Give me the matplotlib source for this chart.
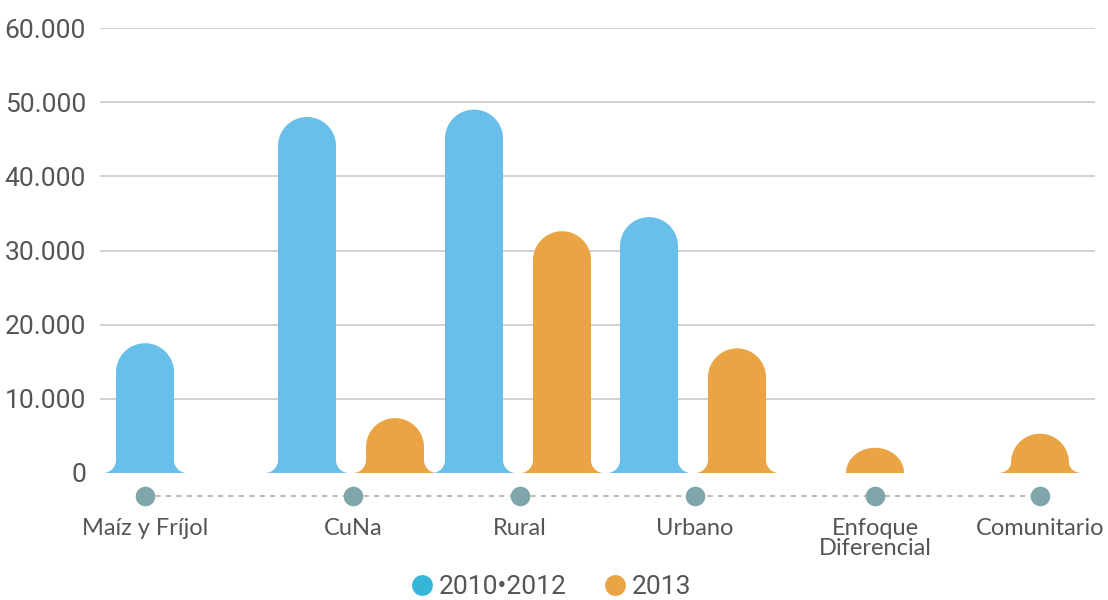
import numpy as np
import matplotlib
matplotlib.use("Agg")
import matplotlib.pyplot as plt
from matplotlib.path import Path
from matplotlib.patches import PathPatch
from matplotlib.lines import Line2D
import matplotlib.transforms as mtransforms

# ---------------- data ----------------
categories = ["Maíz y Fríjol", "CuNa", "Rural", "Urbano", "Enfoque\nDiferencial", "Comunitario"]
series_names = ["2010•2012", "2013"]
values_2010_2012 = [17500, 48000, 49000, 34500, np.nan, np.nan]
values_2013 = [np.nan, 7400, 32600, 16800, 3400, 5300]
y_ticks = [0, 10000, 20000, 30000, 40000, 50000, 60000]

# ---------------- layout / style ----------------
W, H = 1108, 600
cat_x = [145, 353, 520, 695, 875, 1040]      # category centres (x axis units)
pair_offset = [-46, 42]                        # offsets when both series present
bar_half = 29                                  # half bar width (px)
flare = 13                                     # base fillet (px)
bar_colors = ["#67BFEA", "#EBA444"]
legend_colors = ["#35B6D8", "#EBA444"]
dot_color = "#7FA6AB"
text_color = "#555555"
grid_color = "#C9C9C9"

fig = plt.figure(figsize=(W / 100, H / 100), dpi=100)
ax = fig.add_axes([100 / W, (H - 473) / H, 995 / W, 445 / H])
ax.set_xlim(100, 1095)
ax.set_ylim(0, 60000)
for s in ax.spines.values():
    s.set_visible(False)

ax.set_yticks(y_ticks)
ax.yaxis.set_major_formatter(plt.FuncFormatter(lambda v, p: f"{int(v):,}".replace(",", ".")))
ax.tick_params(axis="y", length=0, pad=10, labelsize=19, labelcolor=text_color)
for lab in ax.get_yticklabels():
    lab.set_family(["Roboto", "DejaVu Sans"])
ax.set_xticks([])
ax.hlines([t for t in y_ticks if t > 0], 100, 1095, color=grid_color, lw=1.2, zorder=0)

ppx_y = 60000 / ax.bbox.height   # data units per pixel (y)
ppx_x = 995 / ax.bbox.width      # data units per pixel (x)


def bar_path(cx, val):
    h = val / ppx_y
    w = bar_half
    r = w
    pts = []
    if h <= r:
        t = np.linspace(np.pi, 0, 60)
        pts += list(zip(cx + w * np.cos(t), h * np.sin(t)))
    else:
        fh = min(flare, h - r)
        t = np.linspace(-np.pi / 2, 0, 20)
        pts += list(zip(cx - w - flare + flare * np.cos(t), fh + fh * np.sin(t)))
        t = np.linspace(np.pi, 0, 60)
        pts += list(zip(cx + w * np.cos(t), (h - r) + r * np.sin(t)))
        t = np.linspace(np.pi, 1.5 * np.pi, 20)
        pts += list(zip(cx + w + flare + flare * np.cos(t), fh + fh * np.sin(t)))
    pts = [(cx + (x - cx) * ppx_x, y * ppx_y) for x, y in pts]
    pts.append(pts[0])
    codes = [Path.MOVETO] + [Path.LINETO] * (len(pts) - 2) + [Path.CLOSEPOLY]
    return Path(pts, codes)


series = [values_2010_2012, values_2013]
for i, c in enumerate(cat_x):
    present = [not np.isnan(s[i]) for s in series]
    both = all(present)
    for k, s in enumerate(series):
        if not present[k]:
            continue
        cx = c + (pair_offset[k] if both else 0)
        ax.add_patch(PathPatch(bar_path(cx, s[i]), facecolor=bar_colors[k],
                               edgecolor="none", zorder=2))

# category row
trans = mtransforms.blended_transform_factory(ax.transData, fig.transFigure)
row_y = 1 - 496 / H
ax.plot([cat_x[0], cat_x[-1]], [row_y, row_y], transform=trans, color="#BDBDB5",
        lw=1.5, dashes=(2.5, 2.5), clip_on=False, zorder=1)
ax.scatter(cat_x, [row_y] * len(cat_x), s=19 ** 2 * 0.55, color=dot_color,
           transform=trans, clip_on=False, zorder=3, linewidths=0)
for c, lab in zip(cat_x, categories):
    ax.text(c, 1 - 518 / H, lab, transform=trans, ha="center", va="top",
            fontsize=17, color=text_color, family=["Lato", "DejaVu Sans"],
            linespacing=0.95)

# legend
handles = [Line2D([], [], marker="o", linestyle="none", markersize=15,
                  markerfacecolor=col, markeredgecolor="none") for col in legend_colors]
leg = fig.legend(handles, series_names, loc="center", bbox_to_anchor=(552 / W, 1 - 587 / H),
                 ncol=2, frameon=False, handlelength=0.7, handletextpad=0.3,
                 columnspacing=1.45, borderpad=0.1,
                 prop={"family": ["Roboto", "DejaVu Sans"], "size": 19})
for t in leg.get_texts():
    t.set_color(text_color)

fig.savefig("out.png", dpi=100)
